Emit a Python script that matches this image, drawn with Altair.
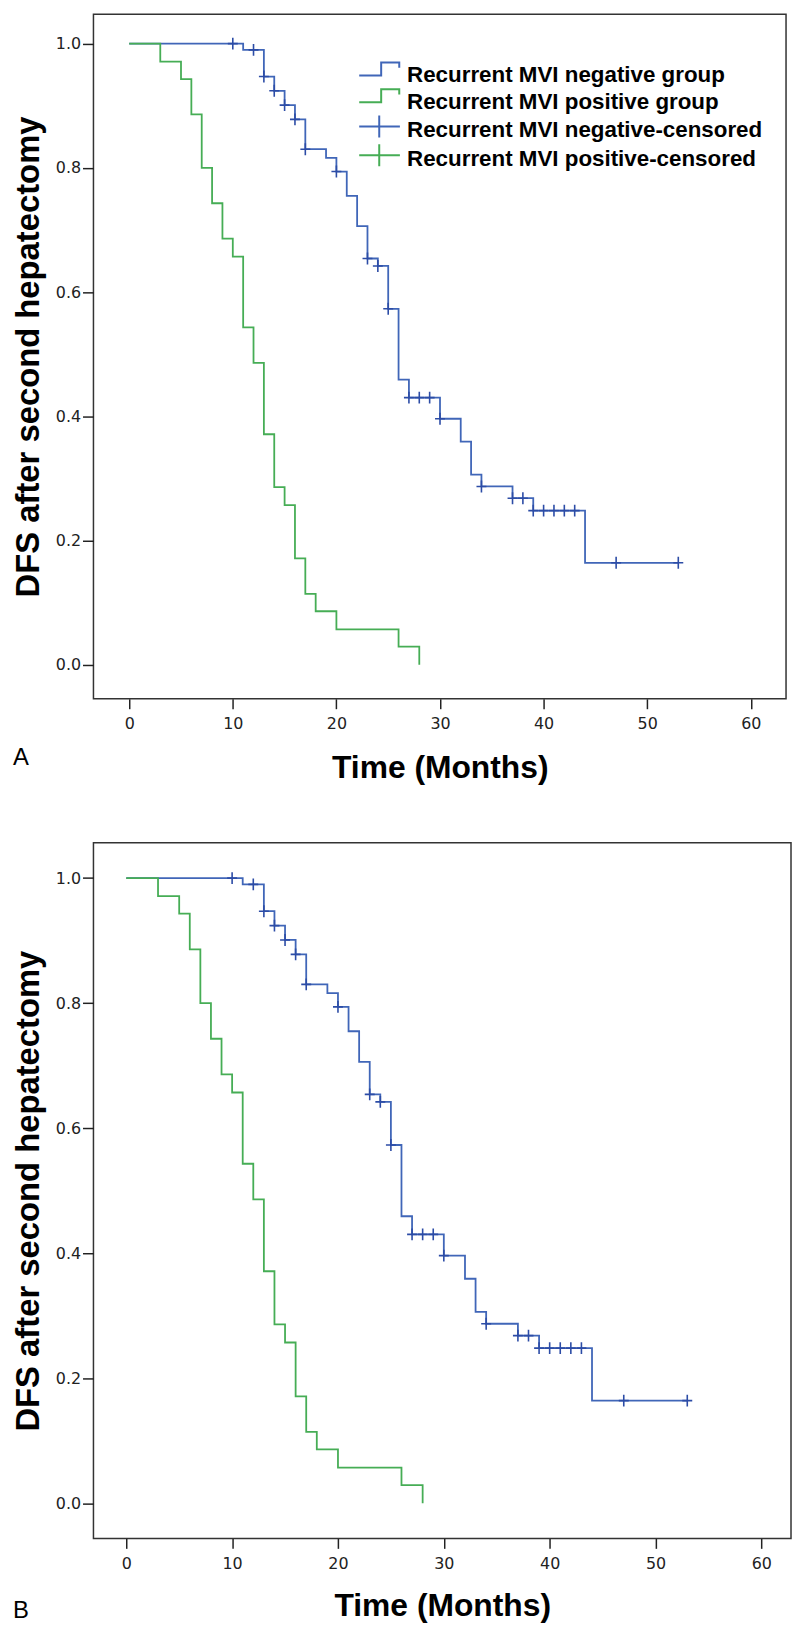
import altair as alt
import pandas as pd

# ---- data (Kaplan-Meier step curves) ----
neg_t = [0, 11, 13, 14, 15, 16, 17, 19, 20, 21, 22, 23, 24, 25, 26, 27, 30, 32, 33, 34, 37, 39, 44, 53]
neg_s = [1.0, 0.990, 0.947, 0.924, 0.901, 0.878, 0.830, 0.816, 0.794, 0.755, 0.706, 0.654, 0.642,
         0.573, 0.459, 0.430, 0.396, 0.359, 0.306, 0.287, 0.268, 0.248, 0.164, 0.164]

neg_cens_t = [10, 12, 13, 14, 15, 16, 17, 20, 23, 24, 25, 27, 28, 29, 30, 34, 37, 38, 39, 40, 41, 42, 43, 47, 53]
neg_cens_s = [1.0, 0.990, 0.947, 0.924, 0.901, 0.878, 0.830, 0.794, 0.654, 0.642, 0.573, 0.430, 0.430,
              0.430, 0.396, 0.287, 0.268, 0.268, 0.248, 0.248, 0.248, 0.248, 0.248, 0.164, 0.164]

pos_t = [0, 3, 5, 6, 7, 8, 9, 10, 11, 12, 13, 14, 15, 16, 17, 18, 20, 26, 28]
pos_s = [1.0, 0.971, 0.943, 0.886, 0.800, 0.743, 0.686, 0.657, 0.543, 0.486, 0.371, 0.286, 0.257,
         0.171, 0.114, 0.086, 0.057, 0.029, 0.0]

x_ticks = [0, 10, 20, 30, 40, 50, 60]
y_ticks = [0.0, 0.2, 0.4, 0.6, 0.8, 1.0]

legend_entries = [
    "Recurrent MVI negative group",
    "Recurrent MVI positive group",
    "Recurrent MVI negative-censored",
    "Recurrent MVI positive-censored",
]

BLUE = "#4066b8"
BLUE_DARK = "#2c4ca6"
GREEN = "#46ad55"

STEP_PATH = "M-1.55,0.05L0.15,0.05L0.15,-0.95L1.55,-0.95L1.55,-0.55"
PLUS_LEG_PATH = "M-1.55,-0.3L1.6,-0.3M0,-1.15L0,0.55"
PLUS_PATH = "M0,-1.2L0,1.2M-1,0L1,0"

neg_df = pd.DataFrame({"t": neg_t, "s": neg_s})
pos_df = pd.DataFrame({"t": pos_t, "s": pos_s})
cens_df = pd.DataFrame({"t": neg_cens_t, "s": neg_cens_s})
leg_df = pd.DataFrame({"entry": legend_entries})


def panel(width, height, xdom, ydom, sym_size, label_offset, leg_x, leg_y, row_pad,
          label_size, xtitle_size, xtitle_y, letter, letter_offset):
    x_enc = alt.X(
        "t:Q",
        scale=alt.Scale(domain=xdom, nice=False, zero=False),
        axis=alt.Axis(
            values=x_ticks, format="d", title="Time (Months)",
            titleFont="Liberation Sans", titleFontSize=xtitle_size, titleFontWeight="bold",
            titleColor="black", titleY=xtitle_y, titleBaseline="alphabetic",
            tickSize=10, tickWidth=1.5, tickColor="#222222",
            labelPadding=7, labelFont="DejaVu Sans", labelFontSize=16, labelColor="#222222",
            domain=False, grid=False,
        ),
    )
    y_enc = alt.Y(
        "s:Q",
        scale=alt.Scale(domain=ydom, nice=False, zero=False),
        axis=alt.Axis(
            values=y_ticks, format=".1f", title="DFS after second hepatectomy",
            titleFont="Liberation Sans", titleFontSize=33, titleFontWeight="bold",
            titleColor="black", titleX=-55, titleBaseline="alphabetic",
            tickSize=11, tickWidth=1.5, tickColor="#222222",
            labelPadding=2, labelFont="DejaVu Sans", labelFontSize=16, labelColor="#222222",
            domain=False, grid=False,
        ),
    )
    leg_params = alt.Legend(
        title=None, orient="none", legendX=leg_x, legendY=leg_y,
        symbolSize=sym_size, symbolStrokeWidth=2, symbolOpacity=1,
        labelFont="Liberation Sans", labelFontWeight="bold", labelFontSize=label_size,
        labelColor="black", labelLimit=1000, labelOffset=label_offset,
        rowPadding=row_pad, padding=0,
    )
    neg_line = alt.Chart(neg_df).mark_line(
        interpolate="step-after", color=BLUE, strokeWidth=1.8
    ).encode(x=x_enc, y=y_enc)
    pos_line = alt.Chart(pos_df).mark_line(
        interpolate="step-after", color=GREEN, strokeWidth=1.8
    ).encode(x=x_enc, y=y_enc)
    cens = alt.Chart(cens_df).mark_point(
        shape=PLUS_PATH, size=100, color=BLUE_DARK, strokeWidth=1.6, filled=False, opacity=1
    ).encode(x=x_enc, y=y_enc)
    leg = alt.Chart(leg_df).transform_filter("false").mark_point(
        filled=False, strokeWidth=2, opacity=1
    ).encode(
        color=alt.Color("entry:N",
                        scale=alt.Scale(domain=legend_entries, range=[BLUE, GREEN, BLUE, GREEN]),
                        legend=leg_params),
        shape=alt.Shape("entry:N",
                        scale=alt.Scale(domain=legend_entries,
                                        range=[STEP_PATH, STEP_PATH, PLUS_LEG_PATH, PLUS_LEG_PATH]),
                        legend=leg_params),
    )
    return alt.layer(neg_line, pos_line, cens, leg).properties(
        width=width, height=height,
        title=alt.TitleParams(
            text=letter, orient="bottom", anchor="start", font="Liberation Sans",
            fontSize=24, fontWeight="normal", color="black", offset=letter_offset,
        ),
    )


panel_a = panel(697, 689, [-3.45, 63.4], [-0.0549, 1.0475], 676, 14, 273.6, 47, -2,
                22.5, 32, 79, "A", -37)
panel_b = panel(702, 700, [-3.1, 62.8], [-0.0564, 1.0564], 784, 17, 272.6, 52, 0,
                22.5, 32, 78, "B", -23)

chart = alt.vconcat(panel_a, panel_b, spacing=58).properties(
    padding={"left": 4, "top": 0, "right": 0, "bottom": 0}
).configure_view(
    fill="#f0f0f0", stroke="#333333", strokeWidth=1.5
)

chart.save("out.html", embed_options={"renderer": "svg", "actions": False})
